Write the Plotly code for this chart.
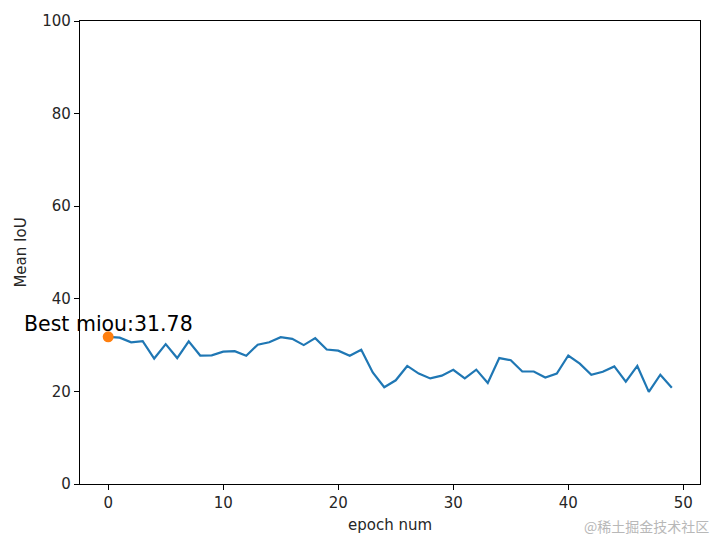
import plotly.graph_objects as go

epochs = list(range(50))
miou = [31.78, 31.6, 30.6, 30.85, 27.1, 30.2, 27.2, 30.8, 27.75, 27.8,
        28.6, 28.7, 27.7, 30.1, 30.6, 31.7, 31.35, 30.0, 31.5, 29.05,
        28.8, 27.7, 29.0, 24.1, 20.9, 22.4, 25.5, 23.85, 22.8, 23.4,
        24.65, 22.8, 24.7, 21.8, 27.2, 26.75, 24.3, 24.3, 23.0, 23.85,
        27.75, 26.0, 23.6, 24.25, 25.4, 22.1, 25.5, 19.9, 23.6, 20.8]
best_epoch = 0
best_value = 31.78
y_ticks = [0, 20, 40, 60, 80, 100]
x_ticks = [0, 10, 20, 30, 40, 50]

font_family = "DejaVu Sans"

fig = go.Figure()
fig.add_trace(go.Scatter(x=epochs, y=miou, mode="lines",
                         line=dict(color="#1f77b4", width=2.2), showlegend=False))
fig.add_trace(go.Scatter(x=[best_epoch], y=[best_value], mode="markers",
                         marker=dict(color="#ff7f0e", size=11), showlegend=False))
fig.add_annotation(x=best_epoch, y=best_value, text=f"Best miou:{best_value}",
                   showarrow=False, xanchor="center", yanchor="bottom",
                   font=dict(family=font_family, size=20.5, color="#000000"),
                   borderpad=0)
fig.add_annotation(x=1.0, y=0, xref="paper", yref="paper", xanchor="right", yanchor="middle",
                   xshift=11, yshift=-42, text="@稀土掘金技术社区", showarrow=False,
                   font=dict(family="Noto Sans CJK SC", size=14, color="#b8b8b8"))

axis_common = dict(showline=True, linecolor="#000000", linewidth=1.2, mirror=True,
                   ticks="outside", ticklen=5, tickwidth=1.2, tickcolor="#000000",
                   showgrid=False, zeroline=False, automargin=False,
                   tickfont=dict(family=font_family, size=15, color="#262626"))

fig.update_layout(
    width=705, height=529,
    margin=dict(l=72, r=13, t=13, b=53),
    paper_bgcolor="white", plot_bgcolor="white",
    xaxis=dict(range=[-2.45, 51.45], tickvals=x_ticks,
               title=dict(text="epoch num", standoff=8,
                          font=dict(family=font_family, size=15, color="#262626")),
               **axis_common),
    yaxis=dict(range=[0, 100], tickvals=y_ticks,
               title=dict(text="Mean IoU", standoff=12,
                          font=dict(family=font_family, size=15, color="#262626")),
               **axis_common),
)

fig.write_html("out.html")
